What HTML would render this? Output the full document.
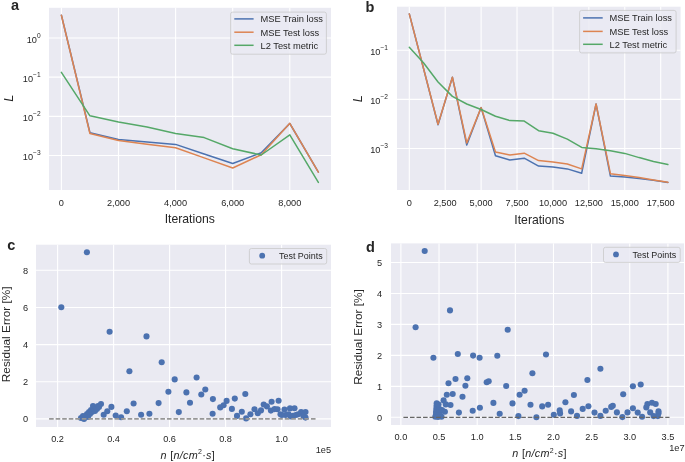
<!DOCTYPE html>
<html><head><meta charset="utf-8"><style>
html,body{margin:0;padding:0;background:#fff;}
svg{display:block;will-change:transform;}
text{font-family:"Liberation Sans", sans-serif;fill:#262626;}
</style></head><body>
<svg width="685" height="462" viewBox="0 0 685 462">
<rect width="685" height="462" fill="#fff"/>
<rect x="49.00" y="7.80" width="282.00" height="182.20" fill="#EAEAF2"/>
<line x1="61.40" y1="7.80" x2="61.40" y2="190.00" stroke="#fff" stroke-width="1.1"/>
<line x1="118.50" y1="7.80" x2="118.50" y2="190.00" stroke="#fff" stroke-width="1.1"/>
<line x1="175.60" y1="7.80" x2="175.60" y2="190.00" stroke="#fff" stroke-width="1.1"/>
<line x1="232.70" y1="7.80" x2="232.70" y2="190.00" stroke="#fff" stroke-width="1.1"/>
<line x1="289.80" y1="7.80" x2="289.80" y2="190.00" stroke="#fff" stroke-width="1.1"/>
<line x1="49.00" y1="38.00" x2="331.00" y2="38.00" stroke="#fff" stroke-width="1.1"/>
<line x1="49.00" y1="77.17" x2="331.00" y2="77.17" stroke="#fff" stroke-width="1.1"/>
<line x1="49.00" y1="116.34" x2="331.00" y2="116.34" stroke="#fff" stroke-width="1.1"/>
<line x1="49.00" y1="155.51" x2="331.00" y2="155.51" stroke="#fff" stroke-width="1.1"/>
<polyline points="61.40,15.20 89.95,132.70 118.50,139.40 147.05,141.90 175.60,144.40 204.15,154.00 232.70,163.50 261.25,152.80 289.80,123.50 318.35,172.20" fill="none" stroke="#4C72B0" stroke-width="1.5" stroke-linejoin="round" stroke-linecap="round"/>
<polyline points="61.40,15.20 89.95,133.50 118.50,140.60 147.05,144.20 175.60,147.70 204.15,157.90 232.70,168.00 261.25,154.70 289.80,123.30 318.35,172.20" fill="none" stroke="#DD8452" stroke-width="1.5" stroke-linejoin="round" stroke-linecap="round"/>
<polyline points="61.40,72.30 89.95,115.80 118.50,122.00 147.05,127.10 175.60,133.40 204.15,137.60 232.70,148.80 261.25,155.00 289.80,134.80 318.35,182.40" fill="none" stroke="#55A868" stroke-width="1.5" stroke-linejoin="round" stroke-linecap="round"/>
<rect x="230.6" y="12.1" width="95.79999999999998" height="42.1" rx="2" ry="2" fill="#EAEAF2" fill-opacity="0.8" stroke="#C8C8C8" stroke-opacity="0.85" stroke-width="0.9"/>
<line x1="234.3" y1="18.9" x2="253.6" y2="18.9" stroke="#4C72B0" stroke-width="1.5"/>
<text x="260.50" y="22.20" font-size="9.3" text-anchor="start" >MSE Train loss</text>
<line x1="234.3" y1="32.2" x2="253.6" y2="32.2" stroke="#DD8452" stroke-width="1.5"/>
<text x="260.50" y="35.50" font-size="9.3" text-anchor="start" >MSE Test loss</text>
<line x1="234.3" y1="45.3" x2="253.6" y2="45.3" stroke="#55A868" stroke-width="1.5"/>
<text x="260.50" y="48.60" font-size="9.3" text-anchor="start" >L2 Test metric</text>
<text x="40.60" y="42.90" font-size="9.2" text-anchor="end">10<tspan font-size="6.6" dy="-5.4">0</tspan></text>
<text x="40.60" y="82.07" font-size="9.2" text-anchor="end">10<tspan font-size="6.6" dy="-5.4">−1</tspan></text>
<text x="40.60" y="121.24" font-size="9.2" text-anchor="end">10<tspan font-size="6.6" dy="-5.4">−2</tspan></text>
<text x="40.60" y="160.41" font-size="9.2" text-anchor="end">10<tspan font-size="6.6" dy="-5.4">−3</tspan></text>
<text x="61.40" y="205.80" font-size="9.2" text-anchor="middle" >0</text>
<text x="118.50" y="205.80" font-size="9.2" text-anchor="middle" >2,000</text>
<text x="175.60" y="205.80" font-size="9.2" text-anchor="middle" >4,000</text>
<text x="232.70" y="205.80" font-size="9.2" text-anchor="middle" >6,000</text>
<text x="289.80" y="205.80" font-size="9.2" text-anchor="middle" >8,000</text>
<text x="189.80" y="223.40" font-size="12.2" text-anchor="middle" >Iterations</text>
<text x="0" y="0" font-size="12.8" font-style="italic" transform="translate(12.7,98.2) rotate(-90)" text-anchor="middle">L</text>
<text x="11" y="10.3" font-size="14.5" font-weight="bold" fill="#000">a</text>
<rect x="397.00" y="6.70" width="283.60" height="183.30" fill="#EAEAF2"/>
<line x1="409.30" y1="6.70" x2="409.30" y2="190.00" stroke="#fff" stroke-width="1.1"/>
<line x1="445.21" y1="6.70" x2="445.21" y2="190.00" stroke="#fff" stroke-width="1.1"/>
<line x1="481.12" y1="6.70" x2="481.12" y2="190.00" stroke="#fff" stroke-width="1.1"/>
<line x1="517.04" y1="6.70" x2="517.04" y2="190.00" stroke="#fff" stroke-width="1.1"/>
<line x1="552.95" y1="6.70" x2="552.95" y2="190.00" stroke="#fff" stroke-width="1.1"/>
<line x1="588.86" y1="6.70" x2="588.86" y2="190.00" stroke="#fff" stroke-width="1.1"/>
<line x1="624.77" y1="6.70" x2="624.77" y2="190.00" stroke="#fff" stroke-width="1.1"/>
<line x1="660.69" y1="6.70" x2="660.69" y2="190.00" stroke="#fff" stroke-width="1.1"/>
<line x1="397.00" y1="50.20" x2="680.60" y2="50.20" stroke="#fff" stroke-width="1.1"/>
<line x1="397.00" y1="99.40" x2="680.60" y2="99.40" stroke="#fff" stroke-width="1.1"/>
<line x1="397.00" y1="148.50" x2="680.60" y2="148.50" stroke="#fff" stroke-width="1.1"/>
<polyline points="409.30,13.90 423.67,69.00 438.03,124.80 452.39,77.20 466.76,145.00 481.12,107.60 495.49,155.80 509.86,160.00 524.22,158.20 538.59,166.10 552.95,167.00 567.32,168.90 581.68,173.20 596.05,104.00 610.41,176.00 624.77,177.00 639.14,178.60 653.50,180.30 667.87,182.40" fill="none" stroke="#4C72B0" stroke-width="1.5" stroke-linejoin="round" stroke-linecap="round"/>
<polyline points="409.30,13.90 423.67,69.00 438.03,124.20 452.39,77.20 466.76,143.00 481.12,107.60 495.49,152.10 509.86,154.90 524.22,153.20 538.59,160.60 552.95,162.10 567.32,164.00 581.68,168.90 596.05,104.00 610.41,173.70 624.77,175.50 639.14,177.60 653.50,180.00 667.87,182.30" fill="none" stroke="#DD8452" stroke-width="1.5" stroke-linejoin="round" stroke-linecap="round"/>
<polyline points="409.30,47.30 423.67,63.00 438.03,82.00 452.39,96.40 466.76,104.00 481.12,109.50 495.49,116.30 509.86,120.60 524.22,121.10 538.59,130.70 552.95,133.20 567.32,139.10 581.68,147.40 596.05,148.80 610.41,150.70 624.77,153.40 639.14,157.60 653.50,161.40 667.87,164.50" fill="none" stroke="#55A868" stroke-width="1.5" stroke-linejoin="round" stroke-linecap="round"/>
<rect x="579.6" y="10.4" width="96.5" height="42.5" rx="2" ry="2" fill="#EAEAF2" fill-opacity="0.8" stroke="#C8C8C8" stroke-opacity="0.85" stroke-width="0.9"/>
<line x1="583.1" y1="17.9" x2="602.7" y2="17.9" stroke="#4C72B0" stroke-width="1.5"/>
<text x="609.50" y="21.20" font-size="9.3" text-anchor="start" >MSE Train loss</text>
<line x1="583.1" y1="31.4" x2="602.7" y2="31.4" stroke="#DD8452" stroke-width="1.5"/>
<text x="609.50" y="34.70" font-size="9.3" text-anchor="start" >MSE Test loss</text>
<line x1="583.1" y1="44.3" x2="602.7" y2="44.3" stroke="#55A868" stroke-width="1.5"/>
<text x="609.50" y="47.60" font-size="9.3" text-anchor="start" >L2 Test metric</text>
<text x="388.00" y="55.10" font-size="9.2" text-anchor="end">10<tspan font-size="6.6" dy="-5.4">−1</tspan></text>
<text x="388.00" y="104.30" font-size="9.2" text-anchor="end">10<tspan font-size="6.6" dy="-5.4">−2</tspan></text>
<text x="388.00" y="153.40" font-size="9.2" text-anchor="end">10<tspan font-size="6.6" dy="-5.4">−3</tspan></text>
<text x="409.30" y="205.80" font-size="9.2" text-anchor="middle" >0</text>
<text x="445.21" y="205.80" font-size="9.2" text-anchor="middle" >2,500</text>
<text x="481.12" y="205.80" font-size="9.2" text-anchor="middle" >5,000</text>
<text x="517.04" y="205.80" font-size="9.2" text-anchor="middle" >7,500</text>
<text x="552.95" y="205.80" font-size="9.2" text-anchor="middle" >10,000</text>
<text x="588.86" y="205.80" font-size="9.2" text-anchor="middle" >12,500</text>
<text x="624.77" y="205.80" font-size="9.2" text-anchor="middle" >15,000</text>
<text x="660.69" y="205.80" font-size="9.2" text-anchor="middle" >17,500</text>
<text x="539.40" y="223.50" font-size="12.2" text-anchor="middle" >Iterations</text>
<text x="0" y="0" font-size="12.8" font-style="italic" transform="translate(362.1,98.8) rotate(-90)" text-anchor="middle">L</text>
<text x="365.5" y="11.8" font-size="14.5" font-weight="bold" fill="#000">b</text>
<rect x="36.00" y="244.70" width="295.00" height="182.30" fill="#EAEAF2"/>
<line x1="57.60" y1="244.70" x2="57.60" y2="427.00" stroke="#fff" stroke-width="1.1"/>
<line x1="113.60" y1="244.70" x2="113.60" y2="427.00" stroke="#fff" stroke-width="1.1"/>
<line x1="169.60" y1="244.70" x2="169.60" y2="427.00" stroke="#fff" stroke-width="1.1"/>
<line x1="225.60" y1="244.70" x2="225.60" y2="427.00" stroke="#fff" stroke-width="1.1"/>
<line x1="281.60" y1="244.70" x2="281.60" y2="427.00" stroke="#fff" stroke-width="1.1"/>
<line x1="36.00" y1="418.90" x2="331.00" y2="418.90" stroke="#fff" stroke-width="1.1"/>
<line x1="36.00" y1="381.75" x2="331.00" y2="381.75" stroke="#fff" stroke-width="1.1"/>
<line x1="36.00" y1="344.60" x2="331.00" y2="344.60" stroke="#fff" stroke-width="1.1"/>
<line x1="36.00" y1="307.45" x2="331.00" y2="307.45" stroke="#fff" stroke-width="1.1"/>
<line x1="36.00" y1="270.30" x2="331.00" y2="270.30" stroke="#fff" stroke-width="1.1"/>
<circle cx="86.90" cy="252.30" r="3.05" fill="#4C72B0"/>
<circle cx="61.30" cy="307.30" r="3.05" fill="#4C72B0"/>
<circle cx="109.60" cy="331.80" r="3.05" fill="#4C72B0"/>
<circle cx="146.50" cy="336.40" r="3.05" fill="#4C72B0"/>
<circle cx="161.70" cy="362.20" r="3.05" fill="#4C72B0"/>
<circle cx="129.40" cy="371.20" r="3.05" fill="#4C72B0"/>
<circle cx="174.70" cy="379.40" r="3.05" fill="#4C72B0"/>
<circle cx="196.60" cy="377.50" r="3.05" fill="#4C72B0"/>
<circle cx="168.40" cy="391.80" r="3.05" fill="#4C72B0"/>
<circle cx="186.40" cy="392.40" r="3.05" fill="#4C72B0"/>
<circle cx="205.30" cy="389.50" r="3.05" fill="#4C72B0"/>
<circle cx="201.30" cy="394.50" r="3.05" fill="#4C72B0"/>
<circle cx="212.90" cy="399.10" r="3.05" fill="#4C72B0"/>
<circle cx="190.00" cy="402.80" r="3.05" fill="#4C72B0"/>
<circle cx="158.60" cy="403.10" r="3.05" fill="#4C72B0"/>
<circle cx="133.60" cy="403.50" r="3.05" fill="#4C72B0"/>
<circle cx="126.80" cy="411.30" r="3.05" fill="#4C72B0"/>
<circle cx="141.10" cy="414.70" r="3.05" fill="#4C72B0"/>
<circle cx="149.40" cy="413.70" r="3.05" fill="#4C72B0"/>
<circle cx="178.80" cy="412.10" r="3.05" fill="#4C72B0"/>
<circle cx="212.60" cy="413.70" r="3.05" fill="#4C72B0"/>
<circle cx="220.20" cy="407.40" r="3.05" fill="#4C72B0"/>
<circle cx="223.60" cy="405.30" r="3.05" fill="#4C72B0"/>
<circle cx="226.60" cy="400.90" r="3.05" fill="#4C72B0"/>
<circle cx="231.90" cy="408.90" r="3.05" fill="#4C72B0"/>
<circle cx="234.80" cy="398.60" r="3.05" fill="#4C72B0"/>
<circle cx="245.30" cy="394.00" r="3.05" fill="#4C72B0"/>
<circle cx="237.00" cy="415.90" r="3.05" fill="#4C72B0"/>
<circle cx="241.80" cy="411.80" r="3.05" fill="#4C72B0"/>
<circle cx="246.10" cy="418.40" r="3.05" fill="#4C72B0"/>
<circle cx="250.40" cy="414.30" r="3.05" fill="#4C72B0"/>
<circle cx="254.50" cy="409.30" r="3.05" fill="#4C72B0"/>
<circle cx="257.80" cy="413.30" r="3.05" fill="#4C72B0"/>
<circle cx="261.00" cy="410.40" r="3.05" fill="#4C72B0"/>
<circle cx="263.70" cy="404.50" r="3.05" fill="#4C72B0"/>
<circle cx="266.90" cy="406.40" r="3.05" fill="#4C72B0"/>
<circle cx="271.60" cy="401.80" r="3.05" fill="#4C72B0"/>
<circle cx="278.60" cy="400.70" r="3.05" fill="#4C72B0"/>
<circle cx="270.90" cy="410.60" r="3.05" fill="#4C72B0"/>
<circle cx="274.60" cy="409.10" r="3.05" fill="#4C72B0"/>
<circle cx="277.50" cy="409.30" r="3.05" fill="#4C72B0"/>
<circle cx="280.50" cy="414.30" r="3.05" fill="#4C72B0"/>
<circle cx="284.50" cy="409.50" r="3.05" fill="#4C72B0"/>
<circle cx="290.00" cy="408.40" r="3.05" fill="#4C72B0"/>
<circle cx="294.50" cy="408.30" r="3.05" fill="#4C72B0"/>
<circle cx="285.60" cy="415.00" r="3.05" fill="#4C72B0"/>
<circle cx="290.80" cy="416.50" r="3.05" fill="#4C72B0"/>
<circle cx="295.90" cy="415.00" r="3.05" fill="#4C72B0"/>
<circle cx="301.10" cy="412.10" r="3.05" fill="#4C72B0"/>
<circle cx="305.50" cy="412.10" r="3.05" fill="#4C72B0"/>
<circle cx="305.50" cy="417.60" r="3.05" fill="#4C72B0"/>
<circle cx="303.30" cy="415.80" r="3.05" fill="#4C72B0"/>
<circle cx="298.10" cy="414.30" r="3.05" fill="#4C72B0"/>
<circle cx="288.60" cy="414.30" r="3.05" fill="#4C72B0"/>
<circle cx="293.00" cy="415.80" r="3.05" fill="#4C72B0"/>
<circle cx="281.90" cy="415.00" r="3.05" fill="#4C72B0"/>
<circle cx="111.40" cy="406.90" r="3.05" fill="#4C72B0"/>
<circle cx="107.30" cy="411.20" r="3.05" fill="#4C72B0"/>
<circle cx="103.70" cy="414.70" r="3.05" fill="#4C72B0"/>
<circle cx="115.70" cy="415.50" r="3.05" fill="#4C72B0"/>
<circle cx="121.10" cy="417.30" r="3.05" fill="#4C72B0"/>
<circle cx="81.00" cy="418.00" r="3.05" fill="#4C72B0"/>
<circle cx="84.00" cy="419.00" r="3.05" fill="#4C72B0"/>
<circle cx="86.00" cy="416.00" r="3.05" fill="#4C72B0"/>
<circle cx="87.00" cy="414.00" r="3.05" fill="#4C72B0"/>
<circle cx="89.00" cy="412.00" r="3.05" fill="#4C72B0"/>
<circle cx="90.00" cy="414.00" r="3.05" fill="#4C72B0"/>
<circle cx="91.00" cy="410.00" r="3.05" fill="#4C72B0"/>
<circle cx="92.00" cy="412.00" r="3.05" fill="#4C72B0"/>
<circle cx="93.00" cy="406.00" r="3.05" fill="#4C72B0"/>
<circle cx="94.00" cy="409.00" r="3.05" fill="#4C72B0"/>
<circle cx="95.00" cy="411.00" r="3.05" fill="#4C72B0"/>
<circle cx="96.00" cy="408.00" r="3.05" fill="#4C72B0"/>
<circle cx="97.00" cy="409.00" r="3.05" fill="#4C72B0"/>
<circle cx="98.00" cy="406.00" r="3.05" fill="#4C72B0"/>
<circle cx="99.00" cy="407.00" r="3.05" fill="#4C72B0"/>
<circle cx="101.00" cy="404.00" r="3.05" fill="#4C72B0"/>
<circle cx="83.00" cy="416.00" r="3.05" fill="#4C72B0"/>
<circle cx="88.00" cy="417.00" r="3.05" fill="#4C72B0"/>
<line x1="49.1" y1="418.9" x2="315.8" y2="418.9" stroke="#979797" stroke-width="1.7" stroke-dasharray="4.6 1.946"/>
<rect x="249.4" y="248.5" width="77.29999999999998" height="15.5" rx="2" ry="2" fill="#EAEAF2" fill-opacity="0.8" stroke="#C8C8C8" stroke-opacity="0.85" stroke-width="0.9"/>
<circle cx="262.2" cy="255.7" r="2.9" fill="#4C72B0"/>
<text x="279.00" y="259.00" font-size="8.95" text-anchor="start" >Test Points</text>
<text x="28.20" y="422.30" font-size="9.2" text-anchor="end" >0</text>
<text x="28.20" y="385.15" font-size="9.2" text-anchor="end" >2</text>
<text x="28.20" y="348.00" font-size="9.2" text-anchor="end" >4</text>
<text x="28.20" y="310.85" font-size="9.2" text-anchor="end" >6</text>
<text x="28.20" y="273.70" font-size="9.2" text-anchor="end" >8</text>
<text x="57.60" y="441.80" font-size="9.2" text-anchor="middle" >0.2</text>
<text x="113.60" y="441.80" font-size="9.2" text-anchor="middle" >0.4</text>
<text x="169.60" y="441.80" font-size="9.2" text-anchor="middle" >0.6</text>
<text x="225.60" y="441.80" font-size="9.2" text-anchor="middle" >0.8</text>
<text x="281.60" y="441.80" font-size="9.2" text-anchor="middle" >1.0</text>
<text x="331.10" y="452.60" font-size="9.2" text-anchor="end" >1e5</text>
<text x="0" y="0" font-size="11.8" transform="translate(10.4,334.3) rotate(-90)" text-anchor="middle">Residual Error [%]</text>
<text x="160.60" y="458.60" font-size="10.8" textLength="54.2" lengthAdjust="spacing"><tspan font-style="italic">n</tspan> [<tspan font-style="italic">n/cm</tspan><tspan font-size="7" dy="-4.2">2</tspan><tspan dy="4.2">·</tspan><tspan font-style="italic">s</tspan>]</text>
<text x="7.2" y="249.8" font-size="14.5" font-weight="bold" fill="#000">c</text>
<rect x="391.00" y="243.40" width="293.00" height="181.60" fill="#EAEAF2"/>
<line x1="400.90" y1="243.40" x2="400.90" y2="425.00" stroke="#fff" stroke-width="1.1"/>
<line x1="439.04" y1="243.40" x2="439.04" y2="425.00" stroke="#fff" stroke-width="1.1"/>
<line x1="477.19" y1="243.40" x2="477.19" y2="425.00" stroke="#fff" stroke-width="1.1"/>
<line x1="515.34" y1="243.40" x2="515.34" y2="425.00" stroke="#fff" stroke-width="1.1"/>
<line x1="553.48" y1="243.40" x2="553.48" y2="425.00" stroke="#fff" stroke-width="1.1"/>
<line x1="591.62" y1="243.40" x2="591.62" y2="425.00" stroke="#fff" stroke-width="1.1"/>
<line x1="629.77" y1="243.40" x2="629.77" y2="425.00" stroke="#fff" stroke-width="1.1"/>
<line x1="667.91" y1="243.40" x2="667.91" y2="425.00" stroke="#fff" stroke-width="1.1"/>
<line x1="391.00" y1="417.30" x2="684.00" y2="417.30" stroke="#fff" stroke-width="1.1"/>
<line x1="391.00" y1="386.34" x2="684.00" y2="386.34" stroke="#fff" stroke-width="1.1"/>
<line x1="391.00" y1="355.38" x2="684.00" y2="355.38" stroke="#fff" stroke-width="1.1"/>
<line x1="391.00" y1="324.42" x2="684.00" y2="324.42" stroke="#fff" stroke-width="1.1"/>
<line x1="391.00" y1="293.46" x2="684.00" y2="293.46" stroke="#fff" stroke-width="1.1"/>
<line x1="391.00" y1="262.50" x2="684.00" y2="262.50" stroke="#fff" stroke-width="1.1"/>
<circle cx="424.70" cy="251.00" r="3.05" fill="#4C72B0"/>
<circle cx="450.00" cy="310.40" r="3.05" fill="#4C72B0"/>
<circle cx="415.60" cy="327.30" r="3.05" fill="#4C72B0"/>
<circle cx="507.70" cy="329.70" r="3.05" fill="#4C72B0"/>
<circle cx="433.40" cy="357.70" r="3.05" fill="#4C72B0"/>
<circle cx="457.80" cy="354.00" r="3.05" fill="#4C72B0"/>
<circle cx="473.10" cy="355.60" r="3.05" fill="#4C72B0"/>
<circle cx="479.60" cy="357.70" r="3.05" fill="#4C72B0"/>
<circle cx="497.30" cy="355.70" r="3.05" fill="#4C72B0"/>
<circle cx="546.00" cy="354.50" r="3.05" fill="#4C72B0"/>
<circle cx="532.40" cy="373.30" r="3.05" fill="#4C72B0"/>
<circle cx="587.40" cy="380.00" r="3.05" fill="#4C72B0"/>
<circle cx="600.40" cy="368.70" r="3.05" fill="#4C72B0"/>
<circle cx="455.50" cy="379.00" r="3.05" fill="#4C72B0"/>
<circle cx="467.30" cy="378.30" r="3.05" fill="#4C72B0"/>
<circle cx="448.50" cy="383.30" r="3.05" fill="#4C72B0"/>
<circle cx="465.40" cy="385.80" r="3.05" fill="#4C72B0"/>
<circle cx="486.70" cy="382.30" r="3.05" fill="#4C72B0"/>
<circle cx="488.70" cy="381.20" r="3.05" fill="#4C72B0"/>
<circle cx="506.20" cy="386.00" r="3.05" fill="#4C72B0"/>
<circle cx="446.80" cy="394.70" r="3.05" fill="#4C72B0"/>
<circle cx="452.70" cy="394.00" r="3.05" fill="#4C72B0"/>
<circle cx="462.50" cy="396.70" r="3.05" fill="#4C72B0"/>
<circle cx="519.60" cy="394.70" r="3.05" fill="#4C72B0"/>
<circle cx="524.60" cy="390.70" r="3.05" fill="#4C72B0"/>
<circle cx="573.90" cy="395.00" r="3.05" fill="#4C72B0"/>
<circle cx="623.20" cy="394.20" r="3.05" fill="#4C72B0"/>
<circle cx="443.60" cy="400.40" r="3.05" fill="#4C72B0"/>
<circle cx="450.50" cy="405.00" r="3.05" fill="#4C72B0"/>
<circle cx="458.90" cy="412.60" r="3.05" fill="#4C72B0"/>
<circle cx="472.70" cy="410.80" r="3.05" fill="#4C72B0"/>
<circle cx="479.90" cy="407.80" r="3.05" fill="#4C72B0"/>
<circle cx="493.40" cy="402.90" r="3.05" fill="#4C72B0"/>
<circle cx="499.70" cy="413.70" r="3.05" fill="#4C72B0"/>
<circle cx="512.50" cy="403.40" r="3.05" fill="#4C72B0"/>
<circle cx="518.40" cy="416.10" r="3.05" fill="#4C72B0"/>
<circle cx="530.50" cy="404.70" r="3.05" fill="#4C72B0"/>
<circle cx="536.40" cy="417.20" r="3.05" fill="#4C72B0"/>
<circle cx="542.20" cy="406.40" r="3.05" fill="#4C72B0"/>
<circle cx="548.10" cy="404.70" r="3.05" fill="#4C72B0"/>
<circle cx="553.80" cy="414.80" r="3.05" fill="#4C72B0"/>
<circle cx="559.70" cy="410.40" r="3.05" fill="#4C72B0"/>
<circle cx="560.10" cy="413.40" r="3.05" fill="#4C72B0"/>
<circle cx="565.40" cy="402.20" r="3.05" fill="#4C72B0"/>
<circle cx="571.10" cy="411.40" r="3.05" fill="#4C72B0"/>
<circle cx="577.00" cy="415.90" r="3.05" fill="#4C72B0"/>
<circle cx="582.70" cy="408.90" r="3.05" fill="#4C72B0"/>
<circle cx="588.40" cy="406.30" r="3.05" fill="#4C72B0"/>
<circle cx="594.50" cy="412.60" r="3.05" fill="#4C72B0"/>
<circle cx="600.40" cy="415.90" r="3.05" fill="#4C72B0"/>
<circle cx="605.70" cy="410.80" r="3.05" fill="#4C72B0"/>
<circle cx="611.20" cy="406.90" r="3.05" fill="#4C72B0"/>
<circle cx="612.80" cy="405.70" r="3.05" fill="#4C72B0"/>
<circle cx="616.90" cy="412.40" r="3.05" fill="#4C72B0"/>
<circle cx="622.40" cy="417.10" r="3.05" fill="#4C72B0"/>
<circle cx="627.50" cy="412.40" r="3.05" fill="#4C72B0"/>
<circle cx="632.90" cy="386.30" r="3.05" fill="#4C72B0"/>
<circle cx="640.70" cy="384.50" r="3.05" fill="#4C72B0"/>
<circle cx="632.90" cy="408.20" r="3.05" fill="#4C72B0"/>
<circle cx="637.70" cy="412.60" r="3.05" fill="#4C72B0"/>
<circle cx="642.10" cy="416.80" r="3.05" fill="#4C72B0"/>
<circle cx="646.30" cy="407.40" r="3.05" fill="#4C72B0"/>
<circle cx="647.40" cy="404.00" r="3.05" fill="#4C72B0"/>
<circle cx="652.00" cy="402.70" r="3.05" fill="#4C72B0"/>
<circle cx="655.70" cy="404.00" r="3.05" fill="#4C72B0"/>
<circle cx="650.20" cy="412.40" r="3.05" fill="#4C72B0"/>
<circle cx="658.50" cy="411.20" r="3.05" fill="#4C72B0"/>
<circle cx="658.50" cy="413.30" r="3.05" fill="#4C72B0"/>
<circle cx="657.80" cy="416.10" r="3.05" fill="#4C72B0"/>
<circle cx="653.60" cy="416.10" r="3.05" fill="#4C72B0"/>
<circle cx="436.70" cy="403.30" r="3.05" fill="#4C72B0"/>
<circle cx="436.50" cy="406.00" r="3.05" fill="#4C72B0"/>
<circle cx="436.30" cy="409.00" r="3.05" fill="#4C72B0"/>
<circle cx="436.00" cy="412.00" r="3.05" fill="#4C72B0"/>
<circle cx="436.00" cy="414.50" r="3.05" fill="#4C72B0"/>
<circle cx="435.30" cy="416.80" r="3.05" fill="#4C72B0"/>
<circle cx="441.50" cy="416.80" r="3.05" fill="#4C72B0"/>
<circle cx="439.50" cy="409.00" r="3.05" fill="#4C72B0"/>
<circle cx="440.00" cy="412.00" r="3.05" fill="#4C72B0"/>
<circle cx="439.00" cy="415.00" r="3.05" fill="#4C72B0"/>
<circle cx="445.80" cy="404.40" r="3.05" fill="#4C72B0"/>
<circle cx="444.90" cy="411.80" r="3.05" fill="#4C72B0"/>
<circle cx="438.50" cy="404.50" r="3.05" fill="#4C72B0"/>
<circle cx="442.00" cy="410.00" r="3.05" fill="#4C72B0"/>
<circle cx="438.00" cy="417.00" r="3.05" fill="#4C72B0"/>
<line x1="403.4" y1="417.4" x2="669.5" y2="417.4" stroke="#666666" stroke-width="1.35" stroke-dasharray="4.6 1.946"/>
<rect x="603.5" y="247.3" width="76.70000000000005" height="15.099999999999966" rx="2" ry="2" fill="#EAEAF2" fill-opacity="0.8" stroke="#C8C8C8" stroke-opacity="0.85" stroke-width="0.9"/>
<circle cx="616" cy="254.4" r="2.9" fill="#4C72B0"/>
<text x="632.50" y="257.70" font-size="8.95" text-anchor="start" >Test Points</text>
<text x="382.20" y="420.70" font-size="9.2" text-anchor="end" >0</text>
<text x="382.20" y="389.74" font-size="9.2" text-anchor="end" >1</text>
<text x="382.20" y="358.78" font-size="9.2" text-anchor="end" >2</text>
<text x="382.20" y="327.82" font-size="9.2" text-anchor="end" >3</text>
<text x="382.20" y="296.86" font-size="9.2" text-anchor="end" >4</text>
<text x="382.20" y="265.90" font-size="9.2" text-anchor="end" >5</text>
<text x="400.90" y="440.30" font-size="9.2" text-anchor="middle" >0.0</text>
<text x="439.04" y="440.30" font-size="9.2" text-anchor="middle" >0.5</text>
<text x="477.19" y="440.30" font-size="9.2" text-anchor="middle" >1.0</text>
<text x="515.34" y="440.30" font-size="9.2" text-anchor="middle" >1.5</text>
<text x="553.48" y="440.30" font-size="9.2" text-anchor="middle" >2.0</text>
<text x="591.62" y="440.30" font-size="9.2" text-anchor="middle" >2.5</text>
<text x="629.77" y="440.30" font-size="9.2" text-anchor="middle" >3.0</text>
<text x="667.91" y="440.30" font-size="9.2" text-anchor="middle" >3.5</text>
<text x="684.50" y="451.00" font-size="9.2" text-anchor="end" >1e7</text>
<text x="0" y="0" font-size="11.8" transform="translate(362,337) rotate(-90)" text-anchor="middle">Residual Error [%]</text>
<text x="512.30" y="457.40" font-size="10.8" textLength="54.2" lengthAdjust="spacing"><tspan font-style="italic">n</tspan> [<tspan font-style="italic">n/cm</tspan><tspan font-size="7" dy="-4.2">2</tspan><tspan dy="4.2">·</tspan><tspan font-style="italic">s</tspan>]</text>
<text x="366" y="252" font-size="14.5" font-weight="bold" fill="#000">d</text>
</svg>
</body></html>
